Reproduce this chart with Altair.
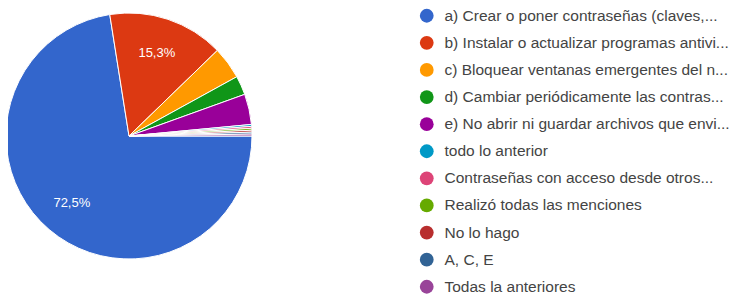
import math
import altair as alt
import pandas as pd

labels = [
    "a) Crear o poner contraseñas (claves,...",
    "b) Instalar o actualizar programas antivi...",
    "c) Bloquear ventanas emergentes del n...",
    "d) Cambiar periódicamente las contras...",
    "e) No abrir ni guardar archivos que envi...",
    "todo lo anterior",
    "Contraseñas con acceso desde otros...",
    "Realizó todas las menciones",
    "No lo hago",
    "A, C, E",
    "Todas la anteriores",
]
values = [290, 61, 17, 10, 16, 1, 1, 1, 1, 1, 1]
pct_labels = ["72,5%", "15,3%", "", "", "", "", "", "", "", "", ""]
colors = ["#3366cc", "#dc3912", "#ff9900", "#109618", "#990099", "#0099c6",
          "#dd4477", "#66aa00", "#b82e2e", "#316395", "#994499"]

df = pd.DataFrame({"label": labels, "value": values, "pct": pct_labels,
                   "idx": list(range(len(labels)))})

theta = alt.Theta("value:Q", stack=True,
                  scale=alt.Scale(range=[math.pi / 2, math.pi / 2 + 2 * math.pi]))
cx, cy = 121, 128

base = alt.Chart(df).encode(
    theta=theta,
    order=alt.Order("idx:Q"),
    x=alt.value(cx), y=alt.value(cy),
)

pie = base.mark_arc(outerRadius=123, stroke="white", strokeWidth=1).encode(
    color=alt.Color("label:N", sort=labels,
                    scale=alt.Scale(domain=labels, range=colors),
                    legend=alt.Legend(title=None, orient="none", legendX=411, legendY=0,
                                      symbolType="circle", symbolSize=190,
                                      labelFontSize=15.5, labelColor="#444444",
                                      labelFont="Liberation Sans", labelLimit=330,
                                      rowPadding=10.1, symbolStrokeWidth=0,
                                      labelOffset=10))
)

text = base.mark_text(radius=88, color="white", fontSize=13,
                      font="Liberation Sans").encode(text="pct:N")

chart = (pie + text).properties(
    width=730, height=289, padding=0,
    autosize=alt.AutoSizeParams(type="none"),
).configure_view(stroke=None)

chart.save("out.html", embed_options={"renderer": "svg", "actions": False})
